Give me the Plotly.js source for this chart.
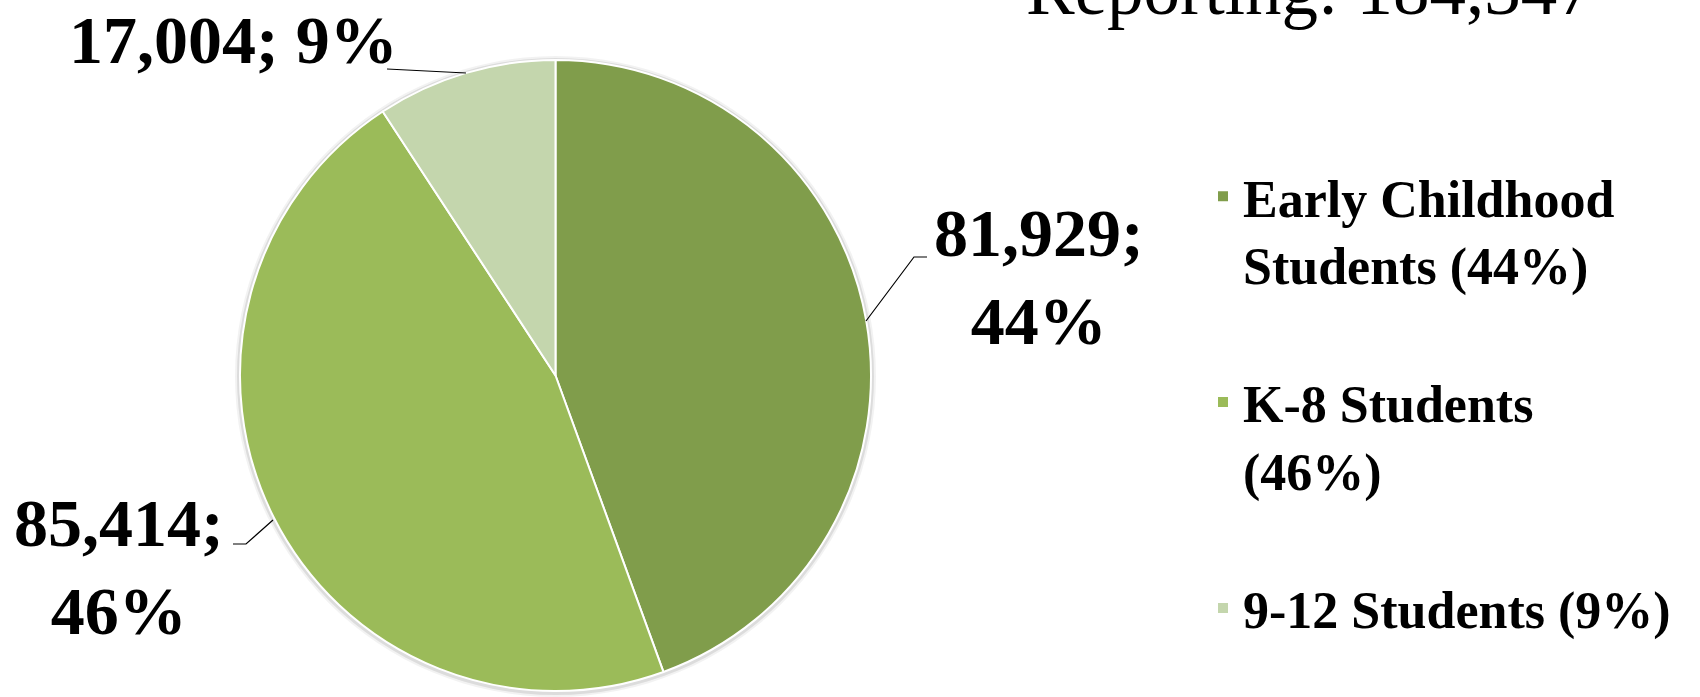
<!DOCTYPE html>
<html>
<head>
<meta charset="utf-8">
<script src="https://cdn.plot.ly/plotly-3.0.1.min.js"></script>
<style>
  html, body { margin: 0; padding: 0; background: #ffffff; }
  #chart { width: 1700px; height: 697px; }
</style>
</head>
<body>
<div id="chart"></div>
<script>
// ---- data ----
const categories = ['Early Childhood Students', 'K-8 Students', '9-12 Students'];
const studentCounts = [81929, 85414, 17004];
const legendLabels = ['Early Childhood<br>Students (44%)<br> ', 'K-8 Students<br>(46%)<br> ', '9-12 Students (9%)'];
const titleText = 'Reporting: ';

// ---- styling ----
const sliceColors = ['#809D4B', '#9BBB59', '#C4D6AD'];
const W = 1700, H = 697;
const px = x => x / W;
const py = y => 1 - y / H;

const total = studentCounts.reduce((a, b) => a + b, 0);
const fmt = v => v.toLocaleString('en-US');
const pct = v => Math.round(v / total * 100);

// label layout: [centre x px, centre y px, break line?]
const labelPos = [
  [1039, 277, true],
  [119, 567, true],
  [234, 40, false]
];
const leaderPaths = [
  [[927, 257], [914, 257], [866, 321]],
  [[233, 544], [246, 544], [273, 520]],
  [[387, 69], [466, 73]]
];

const serif = 'Liberation Serif, Times New Roman, serif';

const annotations = studentCounts.map((v, i) => ({
  text: fmt(v) + ';' + (labelPos[i][2] ? '<br>' : ' ') + pct(v) + '%',
  x: px(labelPos[i][0]), y: py(labelPos[i][1]),
  xref: 'paper', yref: 'paper', xanchor: 'center', yanchor: 'middle',
  showarrow: false, align: 'center',
  font: { family: serif, size: 68, color: '#000000', weight: 'bold' }
}));
annotations.push({
  text: titleText + fmt(total),
  x: px(1310), y: py(-10), xref: 'paper', yref: 'paper',
  xanchor: 'center', yanchor: 'middle', showarrow: false,
  font: { family: serif, size: 73, color: '#000000' }
});

const shapes = leaderPaths.map(pts => ({
  type: 'path', xref: 'paper', yref: 'paper',
  path: pts.map((p, k) => (k ? 'L' : 'M') + px(p[0]) + ',' + py(p[1])).join(' '),
  line: { color: '#000000', width: 1.2 }
}));

// soft shadow ring behind the pie
const cx = 555.5, cy = 375.5, r = 315.5;
[[5, 'rgba(0,0,0,0.05)'], [3, 'rgba(0,0,0,0.09)']].forEach(([d, c]) => {
  shapes.push({
    type: 'circle', xref: 'paper', yref: 'paper', layer: 'below',
    x0: px(cx - r - d), x1: px(cx + r + d), y0: py(cy + r + d + 1), y1: py(cy - r - d + 1),
    fillcolor: c, line: { width: 0 }
  });
});

const trace = {
  type: 'pie',
  values: studentCounts,
  labels: legendLabels,
  customdata: categories,
  sort: false,
  direction: 'clockwise',
  rotation: 0,
  textinfo: 'none',
  hoverinfo: 'none',
  marker: { colors: sliceColors, line: { color: '#ffffff', width: 2 } },
  domain: { x: [px(cx - r - 0.5), px(cx + r + 0.5)], y: [py(cy + r), py(cy - r)] }
};

const layout = {
  width: W, height: H, autosize: false,
  margin: { l: 0, r: 0, t: 0, b: 0, pad: 0 },
  paper_bgcolor: '#ffffff', plot_bgcolor: '#ffffff',
  showlegend: true,
  legend: {
    x: px(1203), y: py(156), xanchor: 'left', yanchor: 'top',
    valign: 'top', traceorder: 'normal',
    bgcolor: 'rgba(0,0,0,0)', borderwidth: 0,
    font: { family: serif, size: 52, color: '#000000', weight: 'bold' }
  },
  annotations: annotations,
  shapes: shapes
};

Plotly.newPlot('chart', [trace], layout, { displayModeBar: false, staticPlot: true });
</script>
</body>
</html>
